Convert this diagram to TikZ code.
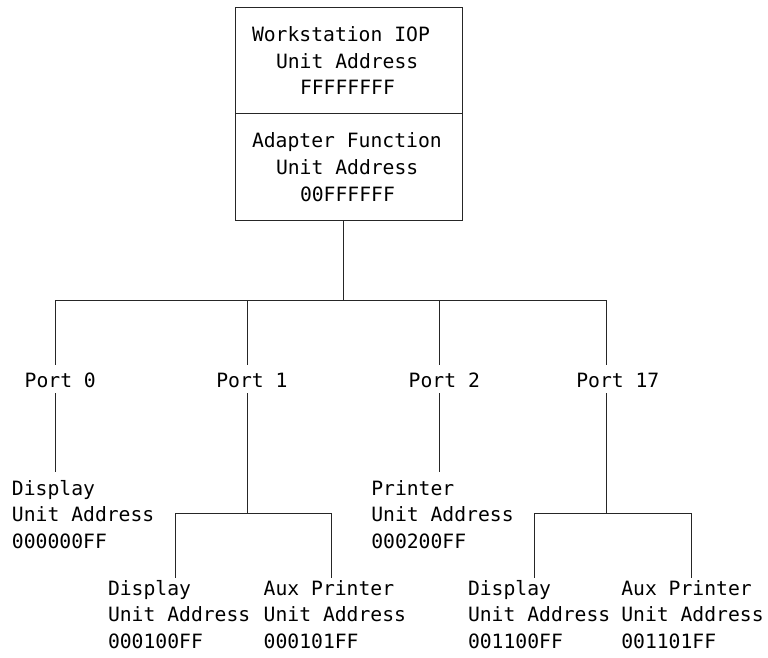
\documentclass[tikz,border=0pt]{standalone}
\usepackage{fontspec}
\setmonofont{DejaVu Sans Mono}
\begin{document}
\begin{tikzpicture}[x=1pt,y=-1pt,
  lbl/.style={font=\ttfamily\fontsize{19.7}{26.6}\selectfont, inner sep=0pt, outer sep=0pt, anchor=base west, text height=14pt, text depth=4pt},
  ln/.style={line width=1pt, draw=black!85},
  boxpart/.style={draw=black!85, line width=1pt, inner sep=0pt, outer sep=0pt, anchor=north west, minimum width=227.7pt}]
\useasboundingbox (0,0) rectangle (768,658);
% top box
\node[boxpart, minimum height=106pt] (ws) at (235,7.3) {};
\node[boxpart, minimum height=106.7pt] (af) at (235,113.3) {};
\node[lbl] (wsa) at (252,41.7) {Workstation IOP};
\node[lbl] (wsb) at (276,68.3) {Unit Address};
\node[lbl] (wsc) at (300,95) {FFFFFFFF};
\node[lbl] (afa) at (252,147.7) {Adapter Function};
\node[lbl] (afb) at (276,174.3) {Unit Address};
\node[lbl] (afc) at (300,201) {00FFFFFF};
% ports
\node[lbl, text height=22.7pt, text depth=5.3pt] (p0) at (24.7,387.7) {Port 0};
\node[lbl, text height=22.7pt, text depth=5.3pt] (p1) at (216.3,387.7) {Port 1};
\node[lbl, text height=22.7pt, text depth=5.3pt] (p2) at (408.7,387.7) {Port 2};
\node[lbl, text height=22.7pt, text depth=5.3pt] (p3) at (576.3,387.7) {Port 17};
% first-level leaves
\node[lbl, text height=23pt] (d0a) at (12,495) {Display};
\node[lbl] (d0b) at (12,521.6) {Unit Address};
\node[lbl] (d0c) at (12,548.2) {000000FF};
\node[lbl, text height=23pt] (pra) at (371.3,495) {Printer};
\node[lbl] (prb) at (371.3,521.6) {Unit Address};
\node[lbl] (prc) at (371.3,548.2) {000200FF};
% second-level leaves
\node[lbl, text height=17pt] (d1a) at (108,595) {Display};
\node[lbl] (d1b) at (108,621.6) {Unit Address};
\node[lbl] (d1c) at (108,648.2) {000100FF};
\node[lbl, text height=17pt] (a1a) at (263.7,595) {Aux Printer};
\node[lbl] (a1b) at (263.7,621.6) {Unit Address};
\node[lbl] (a1c) at (263.7,648.2) {000101FF};
\node[lbl, text height=17pt] (d3a) at (468,595) {Display};
\node[lbl] (d3b) at (468,621.6) {Unit Address};
\node[lbl] (d3c) at (468,648.2) {001100FF};
\node[lbl, text height=17pt] (a3a) at (621.3,595) {Aux Printer};
\node[lbl] (a3b) at (621.3,621.6) {Unit Address};
\node[lbl] (a3c) at (621.3,648.2) {001101FF};
% coordinates
\coordinate (bus) at (343,300);
\coordinate (b0) at (55,300);
\coordinate (b1) at (247,300);
\coordinate (b2) at (439,300);
\coordinate (b3) at (606.5,300);
\coordinate (s1) at (247,513);
\coordinate (s1l) at (175,513);
\coordinate (s1r) at (331,513);
\coordinate (s3) at (606.5,513);
\coordinate (s3l) at (534,513);
\coordinate (s3r) at (691,513);
% connectors
\draw[ln] (af.south -| bus) -- (bus);
\draw[ln] (b0) -- (b3);
\draw[ln] (b0) -- (b0 |- p0.north);
\draw[ln] (b0 |- p0.south) -- (b0 |- d0a.north);
\draw[ln] (b1) -- (b1 |- p1.north);
\draw[ln] (b1 |- p1.south) -- (s1);
\draw[ln] (s1l) -- (s1r);
\draw[ln] (s1l) -- (s1l |- d1a.north);
\draw[ln] (s1r) -- (s1r |- a1a.north);
\draw[ln] (b2) -- (b2 |- p2.north);
\draw[ln] (b2 |- p2.south) -- (b2 |- pra.north);
\draw[ln] (b3) -- (b3 |- p3.north);
\draw[ln] (b3 |- p3.south) -- (s3);
\draw[ln] (s3l) -- (s3r);
\draw[ln] (s3l) -- (s3l |- d3a.north);
\draw[ln] (s3r) -- (s3r |- a3a.north);
\end{tikzpicture}
\end{document}
